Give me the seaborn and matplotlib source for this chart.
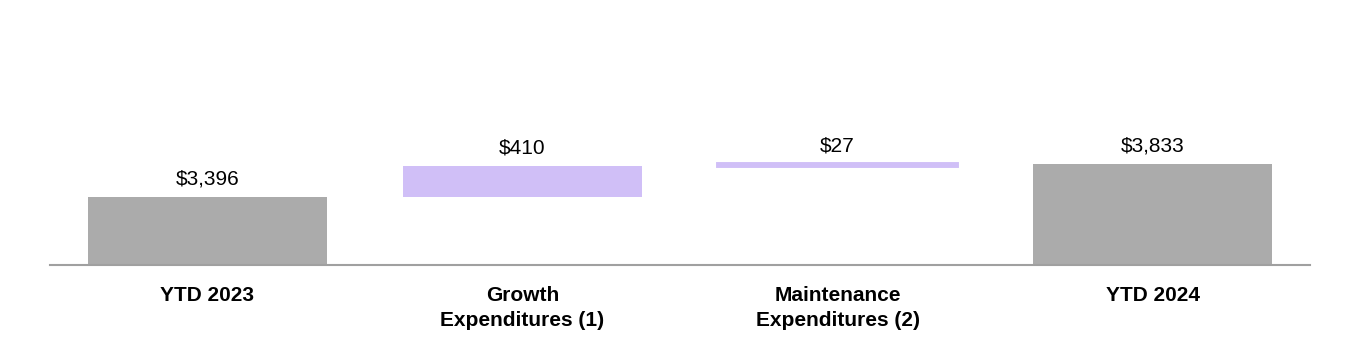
import matplotlib
matplotlib.use("Agg")
import matplotlib.pyplot as plt
import seaborn as sns
import pandas as pd

categories = ["YTD 2023", "Growth\nExpenditures (1)", "Maintenance\nExpenditures (2)", "YTD 2024"]
values = [3396, 410, 27, 3833]
value_labels = ["$3,396", "$410", "$27", "$3,833"]
is_total = [True, False, False, True]

# waterfall bottoms derived from the values
bottoms = []
running = 0
for v, tot in zip(values, is_total):
    if tot:
        bottoms.append(0)
        running = v
    else:
        bottoms.append(running)
        running += v

df = pd.DataFrame({"cat": categories, "val": values, "bottom": bottoms, "total": is_total})
totals = df[df["total"]]
deltas = df[~df["total"]]

GRAY = "#ababab"
PURPLE = "#d0bff7"

sns.set_theme(style="white")
plt.rcParams["font.family"] = ["Liberation Sans", "DejaVu Sans"]

fig = plt.figure(figsize=(13.6, 3.5), dpi=100)
ax_bottom = (350 - 265) / 350
ax = fig.add_axes([50 / 1360, ax_bottom, 1260 / 1360, 1 - ax_bottom - 0.02])

sns.barplot(data=totals, x="cat", y="val", order=categories, color=GRAY,
            width=0.76, saturation=1, ax=ax, linewidth=0)
sns.barplot(data=deltas, x="cat", y="val", order=categories, color=PURPLE,
            width=0.76, saturation=1, ax=ax, linewidth=0,
            bottom=deltas["bottom"].values)

# thin maintenance bar gets a visible minimum thickness
for p in ax.patches:
    if abs(p.get_height() - values[2]) < 1e-6:
        p.set_edgecolor(PURPLE)
        p.set_linewidth(2.8)

ymin = 2500
ppu = 0.076  # pixels per unit
axes_h_px = (1 - ax_bottom - 0.02) * 350
ax.set_ylim(ymin, ymin + axes_h_px / ppu)
ax.set_xlim(-0.5, 3.5)

# value labels
for c in ax.containers:
    labs = []
    for p in c.patches:
        xc = p.get_x() + p.get_width() / 2
        idx = int(round(xc))
        labs.append(value_labels[idx])
    ax.bar_label(c, labels=labs, padding=6, fontsize=15, color="#000000")

ax.set_xlabel("")
ax.set_ylabel("")
ax.set_yticks([])
ax.tick_params(axis="x", length=0, pad=15)
for t in ax.get_xticklabels():
    t.set_fontweight("bold")
    t.set_fontsize(15)
    t.set_color("#000000")
    t.set_linespacing(1.38)

for s in ["top", "right", "left"]:
    ax.spines[s].set_visible(False)
ax.spines["bottom"].set_color("#a0a0a0")
ax.spines["bottom"].set_linewidth(1.5)
ax.set_facecolor("white")

fig.savefig("out.png", dpi=100, facecolor="white")
